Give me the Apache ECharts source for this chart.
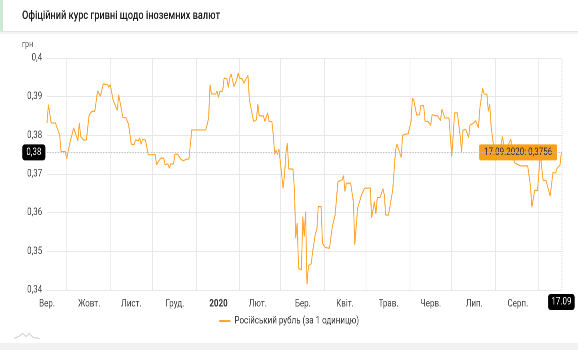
<!DOCTYPE html>
<html><head><meta charset="utf-8">
<script src="https://cdn.jsdelivr.net/npm/echarts@6/dist/echarts.min.js"></script>
<style>
html,body{margin:0;padding:0;background:#fff;overflow:hidden}
#wrap{width:578px;height:350px;overflow:hidden;position:relative}
#c{width:723px;height:350px;transform:scaleX(0.8);transform-origin:0 0}
</style>
</head><body><div id="wrap"><div id="c"></div></div>
<script>
const chartTitle = 'Офіційний курс гривні щодо іноземних валют';
const seriesName = 'Російський рубль (за 1 одиницю)';
const unitName = 'грн';
const dates = [
'2019-09-17','2019-09-18','2019-09-20','2019-09-23','2019-09-26','2019-09-27','2019-09-30',
'2019-10-01','2019-10-03','2019-10-06','2019-10-07','2019-10-09','2019-10-10','2019-10-11','2019-10-13','2019-10-15','2019-10-17','2019-10-19','2019-10-21','2019-10-23','2019-10-25','2019-10-27','2019-10-30','2019-10-31',
'2019-11-01','2019-11-03','2019-11-04','2019-11-06','2019-11-07','2019-11-10','2019-11-12','2019-11-14','2019-11-16','2019-11-18','2019-11-19','2019-11-21','2019-11-22','2019-11-23','2019-11-24','2019-11-26','2019-11-28','2019-11-30',
'2019-12-03','2019-12-04','2019-12-05','2019-12-07','2019-12-09','2019-12-10','2019-12-11','2019-12-12','2019-12-13','2019-12-14','2019-12-16','2019-12-17','2019-12-18','2019-12-19','2019-12-21','2019-12-23','2019-12-24','2019-12-25','2019-12-27','2019-12-29',
'2020-01-02','2020-01-08','2020-01-10','2020-01-11','2020-01-12','2020-01-15','2020-01-16','2020-01-17','2020-01-18','2020-01-20','2020-01-21','2020-01-23','2020-01-24','2020-01-25','2020-01-26','2020-01-27','2020-01-28','2020-01-30','2020-01-31',
'2020-02-01','2020-02-03','2020-02-04','2020-02-05','2020-02-07','2020-02-08','2020-02-09','2020-02-11','2020-02-13','2020-02-14','2020-02-15','2020-02-18','2020-02-19','2020-02-21','2020-02-22','2020-02-24','2020-02-25','2020-02-26','2020-02-27','2020-02-28','2020-02-29',
'2020-03-01','2020-03-02','2020-03-03','2020-03-04','2020-03-05','2020-03-06','2020-03-07','2020-03-10','2020-03-11','2020-03-12','2020-03-13','2020-03-14','2020-03-16','2020-03-17','2020-03-18','2020-03-19','2020-03-20','2020-03-21','2020-03-23','2020-03-24','2020-03-26','2020-03-27','2020-03-28','2020-03-30','2020-03-31',
'2020-04-02','2020-04-05','2020-04-07','2020-04-08','2020-04-09','2020-04-11','2020-04-12','2020-04-14','2020-04-15','2020-04-16','2020-04-17','2020-04-20','2020-04-22','2020-04-23','2020-04-25','2020-04-26','2020-04-28','2020-04-30',
'2020-05-04','2020-05-05','2020-05-07','2020-05-08','2020-05-09','2020-05-11','2020-05-13','2020-05-14','2020-05-15','2020-05-17','2020-05-19','2020-05-20','2020-05-22','2020-05-23','2020-05-24','2020-05-26','2020-05-27','2020-05-29','2020-05-31',
'2020-06-02','2020-06-03','2020-06-04','2020-06-06','2020-06-08','2020-06-09','2020-06-11','2020-06-12','2020-06-14','2020-06-16','2020-06-17','2020-06-18','2020-06-21','2020-06-22','2020-06-23','2020-06-24','2020-06-26','2020-06-29',
'2020-07-01','2020-07-02','2020-07-03','2020-07-05','2020-07-07','2020-07-08','2020-07-09','2020-07-11','2020-07-13','2020-07-14','2020-07-16','2020-07-18','2020-07-20','2020-07-21','2020-07-23','2020-07-24','2020-07-26','2020-07-27','2020-07-28','2020-07-29','2020-07-30',
'2020-08-01','2020-08-02','2020-08-04','2020-08-06','2020-08-08','2020-08-12','2020-08-14','2020-08-15','2020-08-19','2020-08-24','2020-08-26','2020-08-27','2020-08-29','2020-08-31',
'2020-09-01','2020-09-02','2020-09-04','2020-09-06','2020-09-09','2020-09-11','2020-09-13','2020-09-14','2020-09-16','2020-09-17'
];
const rates = [
0.3832,0.3879,0.3832,0.3832,0.3801,0.3758,0.3758,
0.3739,0.3776,0.3819,0.3819,0.3786,0.3832,0.3797,0.3788,0.3788,0.3853,0.3862,0.3862,0.3915,0.3901,0.3933,0.3931,0.3925,
0.3931,0.3892,0.3892,0.3864,0.3905,0.3846,0.3846,0.3829,0.3777,0.3776,0.3788,0.3786,0.3793,0.3777,0.3790,0.3788,0.3750,0.3750,
0.3750,0.3724,0.3731,0.3741,0.3741,0.3724,0.3719,0.3726,0.3715,0.3726,0.3726,0.3751,0.3747,0.3751,0.3739,0.3734,0.3731,0.3738,0.3739,0.3814,
0.3814,0.3814,0.3844,0.3931,0.3907,0.3907,0.3914,0.3898,0.3914,0.3914,0.3948,0.3946,0.3924,0.3948,0.3959,0.3955,0.3926,0.3944,0.3961,
0.3948,0.3946,0.3935,0.3935,0.3955,0.3892,0.3892,0.3836,0.3840,0.3881,0.3851,0.3850,0.3836,0.3858,0.3836,0.3836,0.3801,0.3751,0.3762,0.3750,0.3765,
0.3731,0.3731,0.3663,0.3698,0.3754,0.3780,0.3713,0.3713,0.3663,0.3534,0.3573,0.3456,0.3452,0.3590,0.3538,0.3603,0.3415,0.3463,0.3468,0.3499,0.3547,0.3555,0.3616,0.3616,0.3521,
0.3510,0.3508,0.3564,0.3564,0.3594,0.3680,0.3680,0.3685,0.3696,0.3655,0.3676,0.3676,0.3629,0.3517,0.3612,0.3616,0.3648,0.3663,
0.3664,0.3587,0.3629,0.3596,0.3639,0.3639,0.3662,0.3646,0.3594,0.3594,0.3638,0.3659,0.3762,0.3777,0.3777,0.3743,0.3800,0.3803,0.3804,
0.3836,0.3896,0.3890,0.3853,0.3853,0.3877,0.3877,0.3836,0.3836,0.3826,0.3853,0.3850,0.3850,0.3853,0.3838,0.3868,0.3845,0.3845,
0.3745,0.3800,0.3858,0.3858,0.3797,0.3757,0.3814,0.3815,0.3794,0.3827,0.3830,0.3838,0.3819,0.3871,0.3922,0.3907,0.3906,0.3862,0.3881,0.3823,0.3793,
0.3741,0.3745,0.3751,0.3797,0.3758,0.3790,0.3737,0.3728,0.3721,0.3721,0.3669,0.3614,0.3658,0.3657,
0.3705,0.3752,0.3683,0.3684,0.3643,0.3704,0.3703,0.3715,0.3723,0.3756
];
const monthStarts = ['2019-10-01','2019-11-01','2019-12-01','2020-01-01','2020-02-01','2020-03-01','2020-04-01','2020-05-01','2020-06-01','2020-07-01','2020-08-01','2020-09-01'];
const labelDates = ['2019-09-17','2019-10-17','2019-11-16','2019-12-17','2020-01-17','2020-02-14','2020-03-17','2020-04-16','2020-05-17','2020-06-16','2020-07-17','2020-08-17','2020-09-16'];
const labelNames = ['Вер.','Жовт.','Лист.','Груд.','2020','Лют.','Бер.','Квіт.','Трав.','Черв.','Лип.','Серп.','Вер.'];
const yMin = 0.34, yMax = 0.40, yStep = 0.01;

const ts = d => new Date(d + 'T00:00:00Z').getTime();
const data = dates.map((d, i) => [ts(d), rates[i]]);
const labelMap = {};
labelDates.forEach((d, i) => { labelMap[ts(d)] = labelNames[i]; });
const lastT = ts(dates[dates.length - 1]);
const lastV = rates[rates.length - 1];
const pad = n => String(n).padStart(2, '0');
const fmtDay = t => { const d = new Date(t); return pad(d.getUTCDate()) + '.' + pad(d.getUTCMonth() + 1); };
const fmtFull = t => { const d = new Date(t); return fmtDay(t) + '.' + d.getUTCFullYear(); };
const comma = v => String(v).replace('.', ',');

const chart = echarts.init(document.getElementById('c'), null, {renderer: 'canvas', devicePixelRatio: 2});
chart.setOption({
  animation: false,
  backgroundColor: '#fff',
  textStyle: {fontFamily: 'Roboto, "Noto Sans", sans-serif'},
  grid: {left: 58.75, right: 21.25, top: 58, bottom: 60},
  legend: {
    bottom: 19, left: 'center', icon: 'rect', itemWidth: 14, itemHeight: 2, itemGap: 6,
    textStyle: {color: '#333', fontSize: 10}, data: [seriesName]
  },
  xAxis: {
    type: 'value', min: ts(dates[0]), max: lastT,
    axisLine: {show: false},
    axisTick: {show: false, customValues: monthStarts.map(ts)},
    splitLine: {show: true, lineStyle: {color: '#e8e8e8'}},
    axisLabel: {
      customValues: labelDates.map(ts), color: '#444', fontSize: 10, margin: 9,
      formatter: v => { const n = labelMap[v] || ''; return n === '2020' ? '{b|2020}' : n; },
      rich: {b: {fontWeight: 'bold', color: '#333', fontSize: 10}}
    },
    axisPointer: {
      show: true, value: lastT, status: 'show', triggerTooltip: false,
      lineStyle: {color: '#bbb', type: 'dotted', width: 1},
      label: {show: true, backgroundColor: '#000', color: '#fff', fontSize: 10, padding: [3, 4], margin: 4,
        formatter: p => fmtDay(p.value)}
    }
  },
  yAxis: {
    type: 'value', min: yMin, max: yMax, interval: yStep,
    axisLine: {show: false}, axisTick: {show: false},
    splitLine: {lineStyle: {color: '#e8e8e8'}},
    axisLabel: {color: '#444', fontSize: 10, margin: 6, formatter: v => comma(+v.toFixed(2))},
    axisPointer: {
      show: true, value: lastV, status: 'show', triggerTooltip: false,
      lineStyle: {color: '#bbb', type: 'dotted', width: 1},
      label: {show: true, backgroundColor: '#000', color: '#fff', fontSize: 10, padding: [3, 5], margin: 2,
        formatter: p => comma(+(+p.value).toFixed(2))}
    }
  },
  series: [{
    name: seriesName, type: 'line', data: data, showSymbol: false, symbol: 'none',
    lineStyle: {color: '#ffa630', width: 1.2},
    itemStyle: {color: '#ffa630'},
    markPoint: {
      symbol: 'circle', symbolSize: 1, itemStyle: {color: '#ffa630'},
      data: [{coord: [lastT, lastV]}],
      label: {
        show: true, position: 'left', distance: 5,
        formatter: () => fmtFull(lastT) + ': ' + comma(lastV),
        backgroundColor: '#f7a11a', color: '#333', fontSize: 10, padding: [3, 6], borderRadius: 2
      }
    }
  }],
  graphic: [
    {type: 'rect', left: 0, top: 0, shape: {width: 723, height: 31}, style: {fill: '#fff'}, silent: true},
    {type: 'rect', left: 0, top: 0, shape: {width: 3.75, height: 31}, style: {fill: '#cfe8d6'}, silent: true},
    {type: 'rect', left: 0, top: 31, shape: {width: 723, height: 1}, style: {fill: '#e3e3e3'}, silent: true},
    {type: 'rect', left: 0, top: 32, shape: {width: 723, height: 2}, style: {fill: '#f4f4f4'}, silent: true},
    {type: 'text', left: 27.5, top: 10, style: {text: chartTitle, fontSize: 11.5, fontWeight: 500, fill: '#1e1e1e', fontFamily: 'Roboto, sans-serif'}},
    {type: 'text', left: 27.5, top: 40, style: {text: unitName, fontSize: 9, fill: '#555', fontFamily: 'Roboto, sans-serif'}},
    {type: 'rect', left: 0, top: 343, shape: {width: 723, height: 7}, style: {fill: '#f2f2f2'}, silent: true},
    {type: 'polyline', left: 15, top: 331, shape: {points: [[0,6],[6,4],[11,1],[15,4],[19,1],[24,5],[32,6]]}, style: {stroke: '#ccc', fill: null, lineWidth: 1}}
  ]
});
</script>
</body></html>
